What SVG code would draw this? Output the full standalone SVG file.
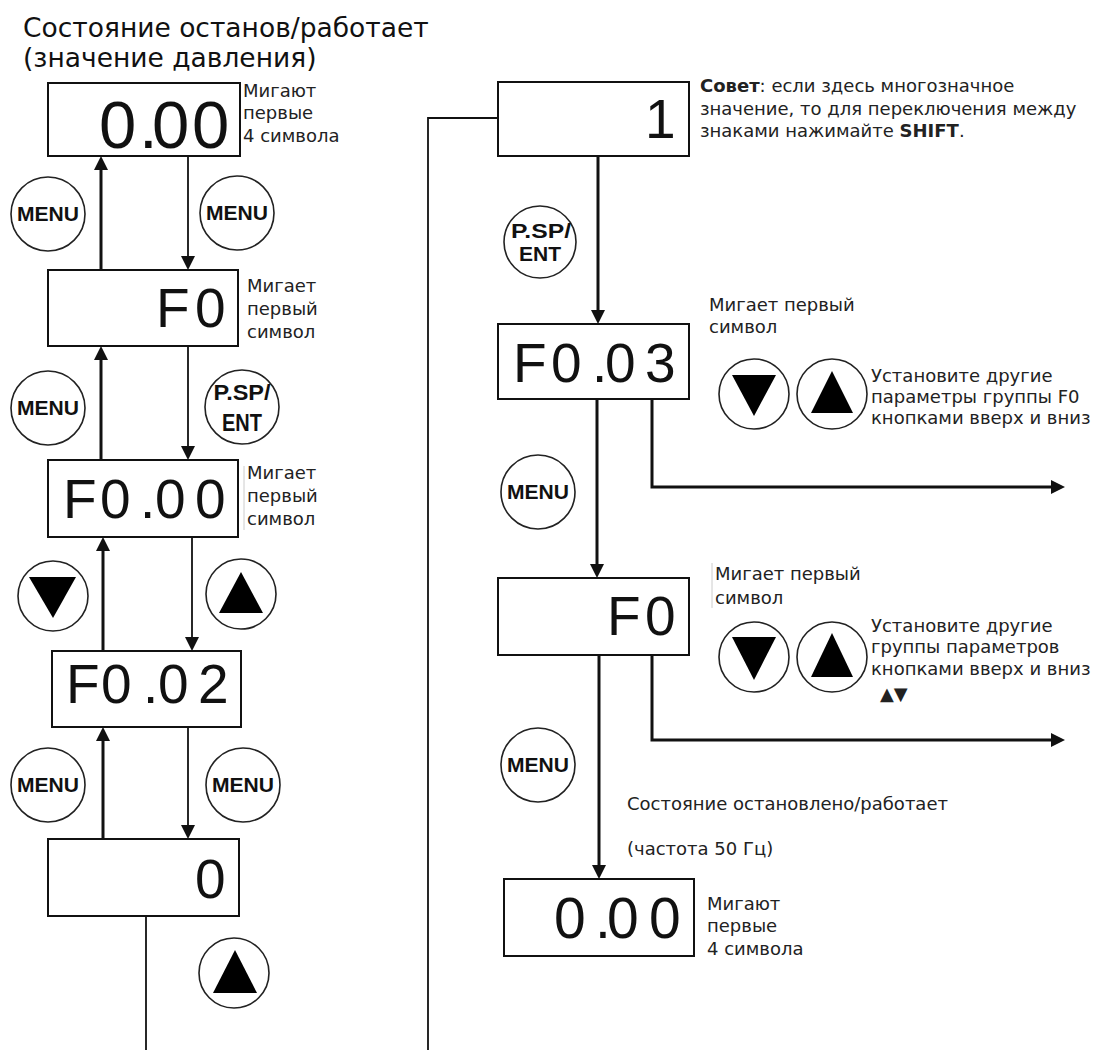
<svg xmlns="http://www.w3.org/2000/svg" width="1103" height="1050" viewBox="0 0 1103 1050">
<style>
.box{fill:#fff;stroke:#111;stroke-width:2}
.disp{font-family:"Liberation Sans",Arial,sans-serif;fill:#111}
.lbl{font-family:"DejaVu Sans",sans-serif;font-size:18px;fill:#222}
.ttl{font-family:"DejaVu Sans",sans-serif;font-size:26.5px;fill:#111}
.btn{fill:#fff;stroke:#222;stroke-width:1.6}
.btxt{font-family:"Liberation Sans",Arial,sans-serif;font-weight:bold;fill:#111;text-anchor:middle}
.thick{stroke:#111;stroke-width:3;fill:none}
.thin{stroke:#111;stroke-width:1.8;fill:none}
.tri{fill:#000}
.art{stroke:#ccc;stroke-width:1;fill:none}
</style>
<defs>
<marker id="ah" markerUnits="userSpaceOnUse" markerWidth="16" markerHeight="14" refX="4" refY="7" orient="auto"><path d="M0,0 L14,7 L0,14 z" fill="#111"/></marker>
</defs>
<rect width="1103" height="1050" fill="#fff"/>

<g id="title">
<text class="ttl" x="23" y="37">Состояние останов/работает</text>
<text class="ttl" x="23" y="67">(значение давления)</text>
</g>

<g id="connectors">
<path class="thick" d="M101,270 V166" marker-end="url(#ah)"/>
<path class="thin" d="M188,156 V260" marker-end="url(#ah)"/>
<path class="thick" d="M101,460 V356" marker-end="url(#ah)"/>
<path class="thin" d="M188,346 V450" marker-end="url(#ah)"/>
<path class="thick" d="M103,651 V547" marker-end="url(#ah)"/>
<path class="thin" d="M192,537 V641" marker-end="url(#ah)"/>
<path class="thick" d="M103,839 V737" marker-end="url(#ah)"/>
<path class="thin" d="M188,727 V829" marker-end="url(#ah)"/>
<path class="thin" d="M146,916 V1050"/>
<path class="thin" d="M498,118 H428 V1050"/>
<path class="thick" d="M598,156 V314" marker-end="url(#ah)"/>
<path class="thick" d="M597,399 V568" marker-end="url(#ah)"/>
<path class="thick" d="M652,399 V487 H1055" marker-end="url(#ah)"/>
<path class="thick" d="M599,655 V869" marker-end="url(#ah)"/>
<path class="thick" d="M652,655 V740 H1055" marker-end="url(#ah)"/>
</g>

<g id="n-l1">
<rect class="box" x="48" y="83" width="192" height="73"/>
<text class="disp" font-size="67" x="99 139 152 192" y="148">0.00</text>
<text class="lbl" x="243" y="97">Мигают</text>
<text class="lbl" x="243" y="119">первые</text>
<text class="lbl" x="243" y="142">4 символа</text>
</g>
<g id="n-l2">
<rect class="box" x="48" y="270" width="190" height="76"/>
<text class="disp" font-size="55" x="156 195" y="327">F0</text>
<text class="lbl" x="247" y="292">Мигает</text>
<text class="lbl" x="247" y="315">первый</text>
<text class="lbl" x="247" y="338">символ</text>
</g>
<g id="n-l3">
<rect class="box" x="48" y="460" width="190" height="77"/>
<text class="disp" font-size="55" x="63 100 140 155 195" y="518">F0.00</text>
<line class="art" x1="244" y1="466" x2="244" y2="530"/>
<text class="lbl" x="247" y="479">Мигает</text>
<text class="lbl" x="247" y="502">первый</text>
<text class="lbl" x="247" y="525">символ</text>
</g>
<g id="n-l4">
<rect class="box" x="52" y="651" width="189" height="76"/>
<text class="disp" font-size="55" x="66 101 143 158 198" y="703">F0.02</text>
</g>
<g id="n-l5">
<rect class="box" x="48" y="839" width="191" height="77"/>
<text class="disp" font-size="55" x="195" y="898">0</text>
</g>

<g id="b-l-menu1"><circle class="btn" cx="48" cy="214" r="37"/><text class="btxt" x="48" y="221" font-size="21" textLength="62" lengthAdjust="spacingAndGlyphs">MENU</text></g>
<g id="b-r-menu1"><circle class="btn" cx="237" cy="213" r="37"/><text class="btxt" x="237" y="220" font-size="21" textLength="62" lengthAdjust="spacingAndGlyphs">MENU</text></g>
<g id="b-l-menu2"><circle class="btn" cx="48" cy="408" r="37"/><text class="btxt" x="48" y="415" font-size="21" textLength="62" lengthAdjust="spacingAndGlyphs">MENU</text></g>
<g id="b-l-ent"><circle class="btn" cx="242" cy="407" r="37"/><text class="btxt" x="242" y="400" font-size="22" textLength="57" lengthAdjust="spacingAndGlyphs">P.SP/</text><text class="btxt" x="242" y="431" font-size="23" textLength="40" lengthAdjust="spacingAndGlyphs">ENT</text></g>
<g id="b-l-down"><circle class="btn" cx="53" cy="596" r="35"/><polygon class="tri" points="29,577 76,577 53,618"/></g>
<g id="b-r-up"><circle class="btn" cx="241" cy="594" r="35"/><polygon class="tri" points="241,572 219,613 263,613"/></g>
<g id="b-l-menu4"><circle class="btn" cx="48" cy="785" r="37"/><text class="btxt" x="48" y="792" font-size="21" textLength="62" lengthAdjust="spacingAndGlyphs">MENU</text></g>
<g id="b-r-menu4"><circle class="btn" cx="243" cy="785" r="37"/><text class="btxt" x="243" y="792" font-size="21" textLength="62" lengthAdjust="spacingAndGlyphs">MENU</text></g>
<g id="b-l-up5"><circle class="btn" cx="234" cy="973" r="35"/><polygon class="tri" points="235,950 213,993 257,993"/></g>

<g id="n-r1">
<rect class="box" x="498" y="82" width="191" height="74"/>
<text class="disp" font-size="55" x="645" y="138">1</text>
<text class="lbl" x="700" y="92"><tspan font-weight="bold">Совет</tspan>: если здесь многозначное</text>
<text class="lbl" x="700" y="115">значение, то для переключения между</text>
<text class="lbl" x="700" y="137">знаками нажимайте <tspan font-weight="bold">SHIFT</tspan>.</text>
</g>
<g id="b-r-ent"><circle class="btn" cx="540" cy="242" r="36"/><text class="btxt" x="541" y="238" font-size="20" textLength="60" lengthAdjust="spacingAndGlyphs">P.SP/</text><text class="btxt" x="540" y="261" font-size="21" textLength="42" lengthAdjust="spacingAndGlyphs">ENT</text></g>

<g id="n-r2">
<rect class="box" x="498" y="324" width="191" height="75"/>
<text class="disp" font-size="55" x="513 551 592 605 645" y="382">F0.03</text>
<text class="lbl" x="709" y="311">Мигает первый</text>
<text class="lbl" x="709" y="333">символ</text>
</g>
<g id="b-r2-down"><circle class="btn" cx="754" cy="394" r="35"/><polygon class="tri" points="732,375 776,375 754,416"/></g>
<g id="b-r2-up"><circle class="btn" cx="832" cy="394" r="35"/><polygon class="tri" points="832,371 811,413 853,413"/></g>
<g id="t-r2">
<text class="lbl" x="871" y="382">Установите другие</text>
<text class="lbl" x="871" y="403">параметры группы F0</text>
<text class="lbl" x="871" y="424">кнопками вверх и вниз</text>
</g>
<g id="b-r-menu1b"><circle class="btn" cx="538" cy="492" r="37"/><text class="btxt" x="538" y="499" font-size="21" textLength="62" lengthAdjust="spacingAndGlyphs">MENU</text></g>

<g id="n-r3">
<rect class="box" x="498" y="578" width="191" height="77"/>
<text class="disp" font-size="55" x="607 645" y="635">F0</text>
<line class="art" x1="712" y1="563" x2="712" y2="608"/>
<text class="lbl" x="715" y="580">Мигает первый</text>
<text class="lbl" x="715" y="604">символ</text>
</g>
<g id="b-r3-down"><circle class="btn" cx="754" cy="657" r="35"/><polygon class="tri" points="732,637 776,637 754,680"/></g>
<g id="b-r3-up"><circle class="btn" cx="832" cy="657" r="35"/><polygon class="tri" points="832,633 811,677 853,677"/></g>
<g id="t-r3">
<text class="lbl" x="871" y="632">Установите другие</text>
<text class="lbl" x="871" y="653">группы параметров</text>
<text class="lbl" x="871" y="675">кнопками вверх и вниз</text>
<text class="lbl" x="880" y="700" font-size="20">▲▼</text>
</g>
<g id="b-r-menu2b"><circle class="btn" cx="538" cy="765" r="37"/><text class="btxt" x="538" y="772" font-size="21" textLength="62" lengthAdjust="spacingAndGlyphs">MENU</text></g>

<g id="t-r4">
<text class="lbl" x="627" y="810" font-size="19">Состояние остановлено/работает</text>
<text class="lbl" x="627" y="855" font-size="19">(частота 50 Гц)</text>
</g>
<g id="n-r4">
<rect class="box" x="504" y="879" width="190" height="77"/>
<text class="disp" font-size="57" x="554 595 607 649" y="938">0.00</text>
<text class="lbl" x="707" y="910">Мигают</text>
<text class="lbl" x="707" y="932">первые</text>
<text class="lbl" x="707" y="955">4 символа</text>
</g>
</svg>
